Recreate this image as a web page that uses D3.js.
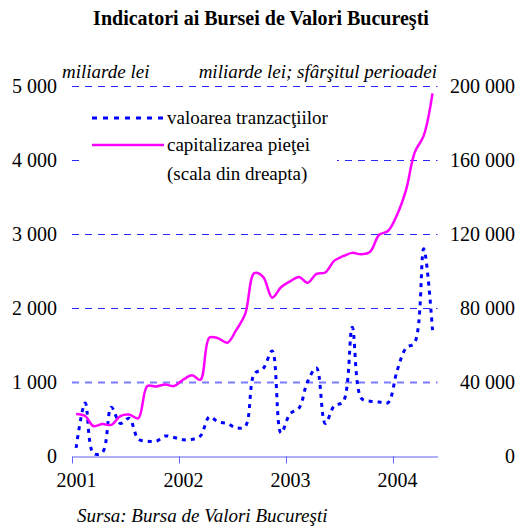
<!DOCTYPE html>
<html>
<head>
<meta charset="utf-8">
<script src="https://cdn.jsdelivr.net/npm/d3@7"></script>
<style>
  body { margin: 0; background: #fff; }
  svg text { font-family: "Liberation Serif", "Times New Roman", serif; fill: #000; }
</style>
</head>
<body>
<svg></svg>
<script>
let width = 517;
let height = 527;

// monthly data, Jan 2001 - May 2004
let months = d3.timeMonth.range(new Date(2001, 0, 1), new Date(2004, 5, 1));

// valoarea tranzactiilor, miliarde lei (left scale)
let tranzactii = [
  110, 715, 35, 50, 660, 440, 510, 230, 200, 200, 270, 250,
  220, 225, 270, 530, 460, 440, 380, 400, 1110, 1180, 1420, 310,
  570, 650, 1000, 1190, 440, 680, 730, 1740, 780, 740, 730, 720,
  1150, 1460, 1530, 2800, 1700
];

// capitalizarea pietei, miliarde lei, sfarsitul perioadei (right scale)
let capitalizare = [
  22700, 21600, 16200, 17300, 16800, 21600, 22400, 20400, 37800, 37600, 38600, 37800,
  41200, 43600, 41200, 64000, 63600, 61200, 68000, 76800, 98800, 96800, 85600, 91200,
  94400, 96800, 93600, 98400, 99200, 105600, 108000, 109800, 109000, 110400, 119600, 121600,
  130400, 144000, 164000, 173200, 196000
];

let leftTicks = [0, 1000, 2000, 3000, 4000, 5000];
let rightTicks = [0, 40000, 80000, 120000, 160000, 200000];
let yearTicks = [2001, 2002, 2003, 2004];

let fmt = (v) => d3.format(',')(v).replace(/,/g, ' ');
let serif = '"Liberation Serif", "Times New Roman", serif';

let svg = d3.select('svg').attr('width', width).attr('height', height);

let xScale = d3.scaleTime()
  .domain([new Date(2001, 0, 1), new Date(2004, 5, 1)])
  .range([72, 437.5]);

let yLeft = d3.scaleLinear().domain([0, 5000]).range([456, 86]);
let yRight = d3.scaleLinear().domain([0, 200000]).range([456, 86]);

let midMonth = (d) => xScale(new Date(d.getFullYear(), d.getMonth(), 15));

// title
svg.append('text')
  .attr('x', 261).attr('y', 25)
  .attr('text-anchor', 'middle')
  .style('font-size', '20px').style('font-weight', 'bold')
  .text('Indicatori ai Bursei de Valori Bucureşti');

// unit labels
svg.append('text')
  .attr('x', 62).attr('y', 78)
  .style('font-size', '19px').style('font-style', 'italic')
  .text('miliarde lei');
svg.append('text')
  .attr('x', 437).attr('y', 78)
  .attr('text-anchor', 'end')
  .style('font-size', '19px').style('font-style', 'italic')
  .text('miliarde lei; sfârşitul perioadei');

// gridlines
svg.append('g')
  .selectAll('line')
  .data(leftTicks.slice(1))
  .enter()
  .append('line')
  .attr('x1', xScale.range()[0])
  .attr('x2', xScale.range()[1])
  .attr('y1', (d) => Math.round(yLeft(d)) + 0.5)
  .attr('y2', (d) => Math.round(yLeft(d)) + 0.5)
  .attr('stroke', (d) => d === 1000 ? '#7b7bff' : '#2a2aff')
  .attr('stroke-width', (d) => d === 1000 ? 2 : 1)
  .attr('stroke-dasharray', '7,6');

// left axis labels
let leftAxis = d3.axisLeft(yLeft).tickValues(leftTicks).tickFormat(fmt).tickSize(0).tickPadding(0);
let gl = svg.append('g').attr('transform', 'translate(57,0)').call(leftAxis);
gl.select('.domain').remove();
gl.selectAll('text').style('font-size', '20px').style('font-family', serif);

// right axis labels
let rightAxis = d3.axisLeft(yRight).tickValues(rightTicks).tickFormat(fmt).tickSize(0).tickPadding(0);
let gr = svg.append('g').attr('transform', 'translate(515,0)').call(rightAxis);
gr.select('.domain').remove();
gr.selectAll('text').style('font-size', '20px').style('font-family', serif);

// x axis
let xAxis = d3.axisBottom(xScale)
  .tickValues(yearTicks.map((y) => new Date(y, 0, 1)))
  .tickFormat(d3.timeFormat('%Y'))
  .tickSize(7)
  .tickSizeOuter(0);
let gx = svg.append('g').attr('transform', 'translate(0,456.5)').call(xAxis);
gx.select('.domain').attr('stroke', '#6060ff');
gx.selectAll('.tick line').attr('stroke', '#6060ff');
gx.selectAll('text')
  .attr('dx', 4).attr('y', 16)
  .style('font-size', '20px').style('font-family', serif);

// lines
let lineLeft = d3.line()
  .x((d, i) => midMonth(months[i]))
  .y((d) => yLeft(d))
  .curve(d3.curveCatmullRom.alpha(0.5));

let lineRight = d3.line()
  .x((d, i) => midMonth(months[i]))
  .y((d) => yRight(d))
  .curve(d3.curveCatmullRom.alpha(0.5));

// legend box (covers gridlines)
svg.append('rect')
  .attr('x', 80).attr('y', 96)
  .attr('width', 257).attr('height', 94)
  .attr('fill', '#fff');

svg.append('path')
  .datum(tranzactii)
  .attr('d', lineLeft)
  .attr('fill', 'none')
  .attr('stroke', '#0000ff')
  .attr('stroke-width', 3)
  .attr('stroke-dasharray', '4,5');

svg.append('path')
  .datum(capitalizare)
  .attr('d', lineRight)
  .attr('fill', 'none')
  .attr('stroke', '#ff00ff')
  .attr('stroke-width', 2.5);

// legend
let legend = svg.append('g');
legend.append('line')
  .attr('x1', 92).attr('x2', 164).attr('y1', 118).attr('y2', 118)
  .attr('stroke', '#0000ff').attr('stroke-width', 3).attr('stroke-dasharray', '5,6');
legend.append('text')
  .attr('x', 167).attr('y', 124)
  .style('font-size', '19px')
  .text('valoarea tranzacţiilor');
legend.append('line')
  .attr('x1', 92).attr('x2', 164).attr('y1', 145).attr('y2', 145)
  .attr('stroke', '#ff00ff').attr('stroke-width', 2.5);
legend.append('text')
  .attr('x', 167).attr('y', 151)
  .style('font-size', '19px')
  .text('capitalizarea pieţei');
legend.append('text')
  .attr('x', 167).attr('y', 180)
  .style('font-size', '19px')
  .text('(scala din dreapta)');

// source
svg.append('text')
  .attr('x', 77).attr('y', 522)
  .style('font-size', '19px').style('font-style', 'italic')
  .text('Sursa: Bursa de Valori Bucureşti');
</script>
</body>
</html>
